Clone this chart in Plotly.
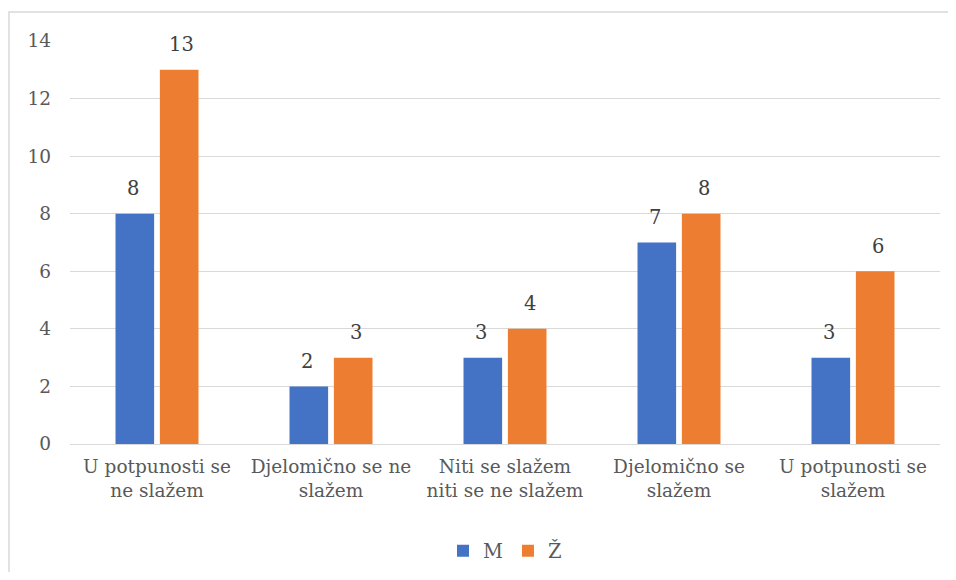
import plotly.graph_objects as go

categories = ["U potpunosti se<br>ne slažem", "Djelomično se ne<br>slažem", "Niti se slažem<br>niti se ne slažem", "Djelomično se<br>slažem", "U potpunosti se<br>slažem"]
m_values = [8, 2, 3, 7, 3]
z_values = [13, 3, 4, 8, 6]
y_ticks = [0, 2, 4, 6, 8, 10, 12, 14]

FONT = "DejaVu Serif"
GRAY = "#595959"

W, H = 940, 564
L, R, T, B = 62, 8, 33, 128
PW, PH = W - L - R, H - T - B

fig = go.Figure()
fig.add_trace(go.Bar(name="M", x=categories, y=m_values, marker_color="#4472C4"))
fig.add_trace(go.Bar(name="Ž", x=categories, y=z_values, marker_color="#ED7D31"))

for vals, xs in ((m_values, -24.5), (z_values, 24.5)):
    for c, v in zip(categories, vals):
        fig.add_annotation(x=c, y=v, text=str(v), showarrow=False, xshift=xs, yshift=25,
                           yanchor="middle", font=dict(family=FONT, size=19.5, color="#404040"))

fig.update_layout(
    template="none",
    width=W, height=H,
    margin=dict(l=L, r=R, t=T, b=B, autoexpand=False),
    paper_bgcolor="white", plot_bgcolor="white",
    barmode="group", bargap=0.49, bargroupgap=0.13,
    font=dict(family=FONT, size=18.5, color=GRAY),
    showlegend=True,
    legend=dict(orientation="h", x=0.5, xanchor="center", y=-(543 - 33 - PH) / PH, yanchor="middle",
                font=dict(family=FONT, size=19.5, color=GRAY), itemwidth=30,
                traceorder="normal"),
)
fig.update_yaxes(range=[0, 14], tickvals=y_ticks, showgrid=True, gridcolor="#D9D9D9", gridwidth=1,
                 zeroline=True, zerolinecolor="#D9D9D9", zerolinewidth=1, automargin=False,
                 showline=False, ticks="", ticklabelstandoff=18, tickfont=dict(family=FONT, size=18.5, color=GRAY))
fig.update_xaxes(showgrid=False, ticks="", showline=False, ticklabelstandoff=9, automargin=False,
                 zeroline=False, tickfont=dict(family=FONT, size=18.5, color=GRAY))
fig.add_shape(type="rect", xref="paper", yref="paper",
              x0=(1 - L) / PW, x1=1.2, y0=-0.5, y1=1 + (T - 4) / PH,
              line=dict(color="#D9D9D9", width=1.5), fillcolor="rgba(0,0,0,0)", layer="below")

fig.write_html("out.html")
